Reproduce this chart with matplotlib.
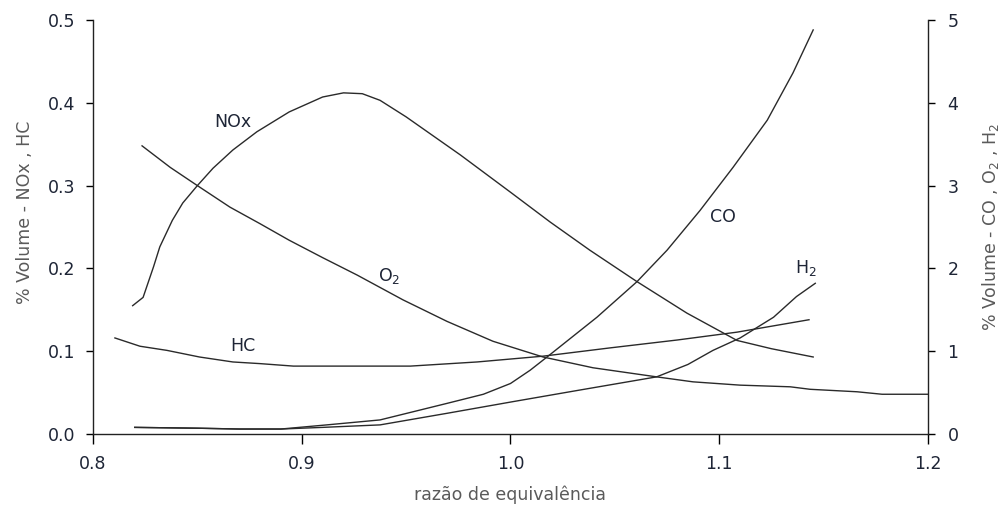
import matplotlib
matplotlib.use("Agg")
from matplotlib import pyplot as plt

# left axis (% volume): NOx, HC
nox_x = [0.819, 0.824, 0.829, 0.832, 0.838, 0.843, 0.850, 0.8575, 0.867, 0.8785, 0.894,
         0.910, 0.920, 0.929, 0.9375, 0.950, 0.976, 1.000, 1.019, 1.038, 1.0606, 1.0845,
         1.1085, 1.125, 1.145]
nox_y = [0.155, 0.165, 0.202, 0.226, 0.258, 0.279, 0.300, 0.321, 0.343, 0.365, 0.389,
         0.407, 0.412, 0.411, 0.403, 0.383, 0.337, 0.292, 0.256, 0.222, 0.184, 0.146,
         0.113, 0.103, 0.093]

hc_x = [0.8105, 0.8225, 0.8354, 0.851, 0.867, 0.880, 0.896, 0.920, 0.952, 0.984,
        1.0156, 1.0477, 1.0798, 1.1085, 1.143]
hc_y = [0.116, 0.106, 0.101, 0.093, 0.087, 0.085, 0.082, 0.082, 0.082, 0.087,
        0.094, 0.104, 0.1135, 0.123, 0.138]

# right axis (% volume): O2, CO, H2
o2_x = [0.8235, 0.837, 0.850, 0.8656, 0.880, 0.894, 0.910, 0.9265, 0.9485, 0.9696,
        0.9916, 1.0156, 1.0395, 1.070, 1.0874, 1.110, 1.134, 1.1435, 1.166, 1.178, 1.2]
o2_y = [3.48, 3.22, 3.00, 2.74, 2.54, 2.34, 2.13, 1.92, 1.62, 1.36,
        1.12, 0.93, 0.80, 0.69, 0.63, 0.59, 0.57, 0.54, 0.51, 0.48, 0.48]

co_x = [0.82, 0.85, 0.87, 0.89, 0.912, 0.9375, 0.9696, 0.987, 1.0, 1.0094, 1.0175,
        1.0414, 1.0606, 1.075, 1.0908, 1.1066, 1.123, 1.1353, 1.145]
co_y = [0.08, 0.07, 0.06, 0.06, 0.11, 0.17, 0.37, 0.48, 0.61, 0.77, 0.93,
        1.41, 1.84, 2.22, 2.70, 3.22, 3.79, 4.36, 4.88]

h2_x = [0.82, 0.85, 0.87, 0.89, 0.91, 0.9375, 0.9696, 1.001, 1.033, 1.070, 1.085,
        1.097, 1.110, 1.126, 1.137, 1.146]
h2_y = [0.08, 0.07, 0.06, 0.06, 0.08, 0.11, 0.25, 0.39, 0.53, 0.69, 0.84,
        1.01, 1.16, 1.41, 1.66, 1.82]

x_ticks = [0.8, 0.9, 1.0, 1.1, 1.2]
left_ticks = [0.0, 0.1, 0.2, 0.3, 0.4, 0.5]
right_ticks = [0, 1, 2, 3, 4, 5]

line_col = '#2a2a2a'
txt_col = '#1e2536'
lab_col = '#5a5a5a'
fs = 12.5

fig = plt.figure(figsize=(10.01, 5.07), dpi=100)
ax = fig.add_axes([93 / 1001, 73 / 507, 835 / 1001, 414 / 507])
ax2 = ax.twinx()

ax.plot(nox_x, nox_y, color=line_col, lw=1.0)
ax.plot(hc_x, hc_y, color=line_col, lw=1.0)
ax2.plot(o2_x, o2_y, color=line_col, lw=1.0)
ax2.plot(co_x, co_y, color=line_col, lw=1.0)
ax2.plot(h2_x, h2_y, color=line_col, lw=1.0)

ax.set_xlim(0.8, 1.2)
ax.set_ylim(0, 0.5)
ax2.set_ylim(0, 5)
ax.set_xticks(x_ticks)
ax.set_xticklabels([f'{v:.1f}' for v in x_ticks])
ax.set_yticks(left_ticks)
ax.set_yticklabels([f'{v:.1f}' for v in left_ticks])
ax2.set_yticks(right_ticks)
ax2.set_yticklabels([str(v) for v in right_ticks])

for a in (ax, ax2):
    a.spines['top'].set_visible(False)
    for s in ('left', 'right', 'bottom'):
        a.spines[s].set_color('#222222')
        a.spines[s].set_linewidth(1.0)
ax.spines['right'].set_visible(False)
ax2.spines['left'].set_visible(False)
ax2.spines['bottom'].set_visible(False)

ax.tick_params(axis='y', direction='out', length=5, width=1, pad=8, labelsize=fs, labelcolor=txt_col)
ax.tick_params(axis='x', direction='out', length=7, width=1, pad=8, labelsize=fs, labelcolor=txt_col)
ax2.tick_params(axis='y', direction='out', length=5, width=1, pad=9, labelsize=fs, labelcolor=txt_col)

ax.set_xlabel('razão de equivalência', fontsize=fs, color=lab_col)
ax.xaxis.set_label_coords(0.5, -0.124)
ax.set_ylabel('% Volume - NOx , HC', fontsize=fs, color=lab_col)
ax.yaxis.set_label_coords(-0.071, 0.536)
ax2.set_ylabel('% Volume - CO , O$_2$ , H$_2$', fontsize=fs, color=lab_col, rotation=90)
ax2.yaxis.set_label_coords(1.062, 0.5)

ax.text(0.867, 0.377, 'NOx', fontsize=fs, color=txt_col, ha='center', va='center')
ax.text(0.872, 0.106, 'HC', fontsize=fs, color=txt_col, ha='center', va='center')
ax2.text(0.942, 1.91, 'O$_2$', fontsize=fs, color=txt_col, ha='center', va='center')
ax2.text(1.102, 2.62, 'CO', fontsize=fs, color=txt_col, ha='center', va='center')
ax2.text(1.1416, 2.00, 'H$_2$', fontsize=fs, color=txt_col, ha='center', va='center')

fig.savefig('out.png', dpi=100)
